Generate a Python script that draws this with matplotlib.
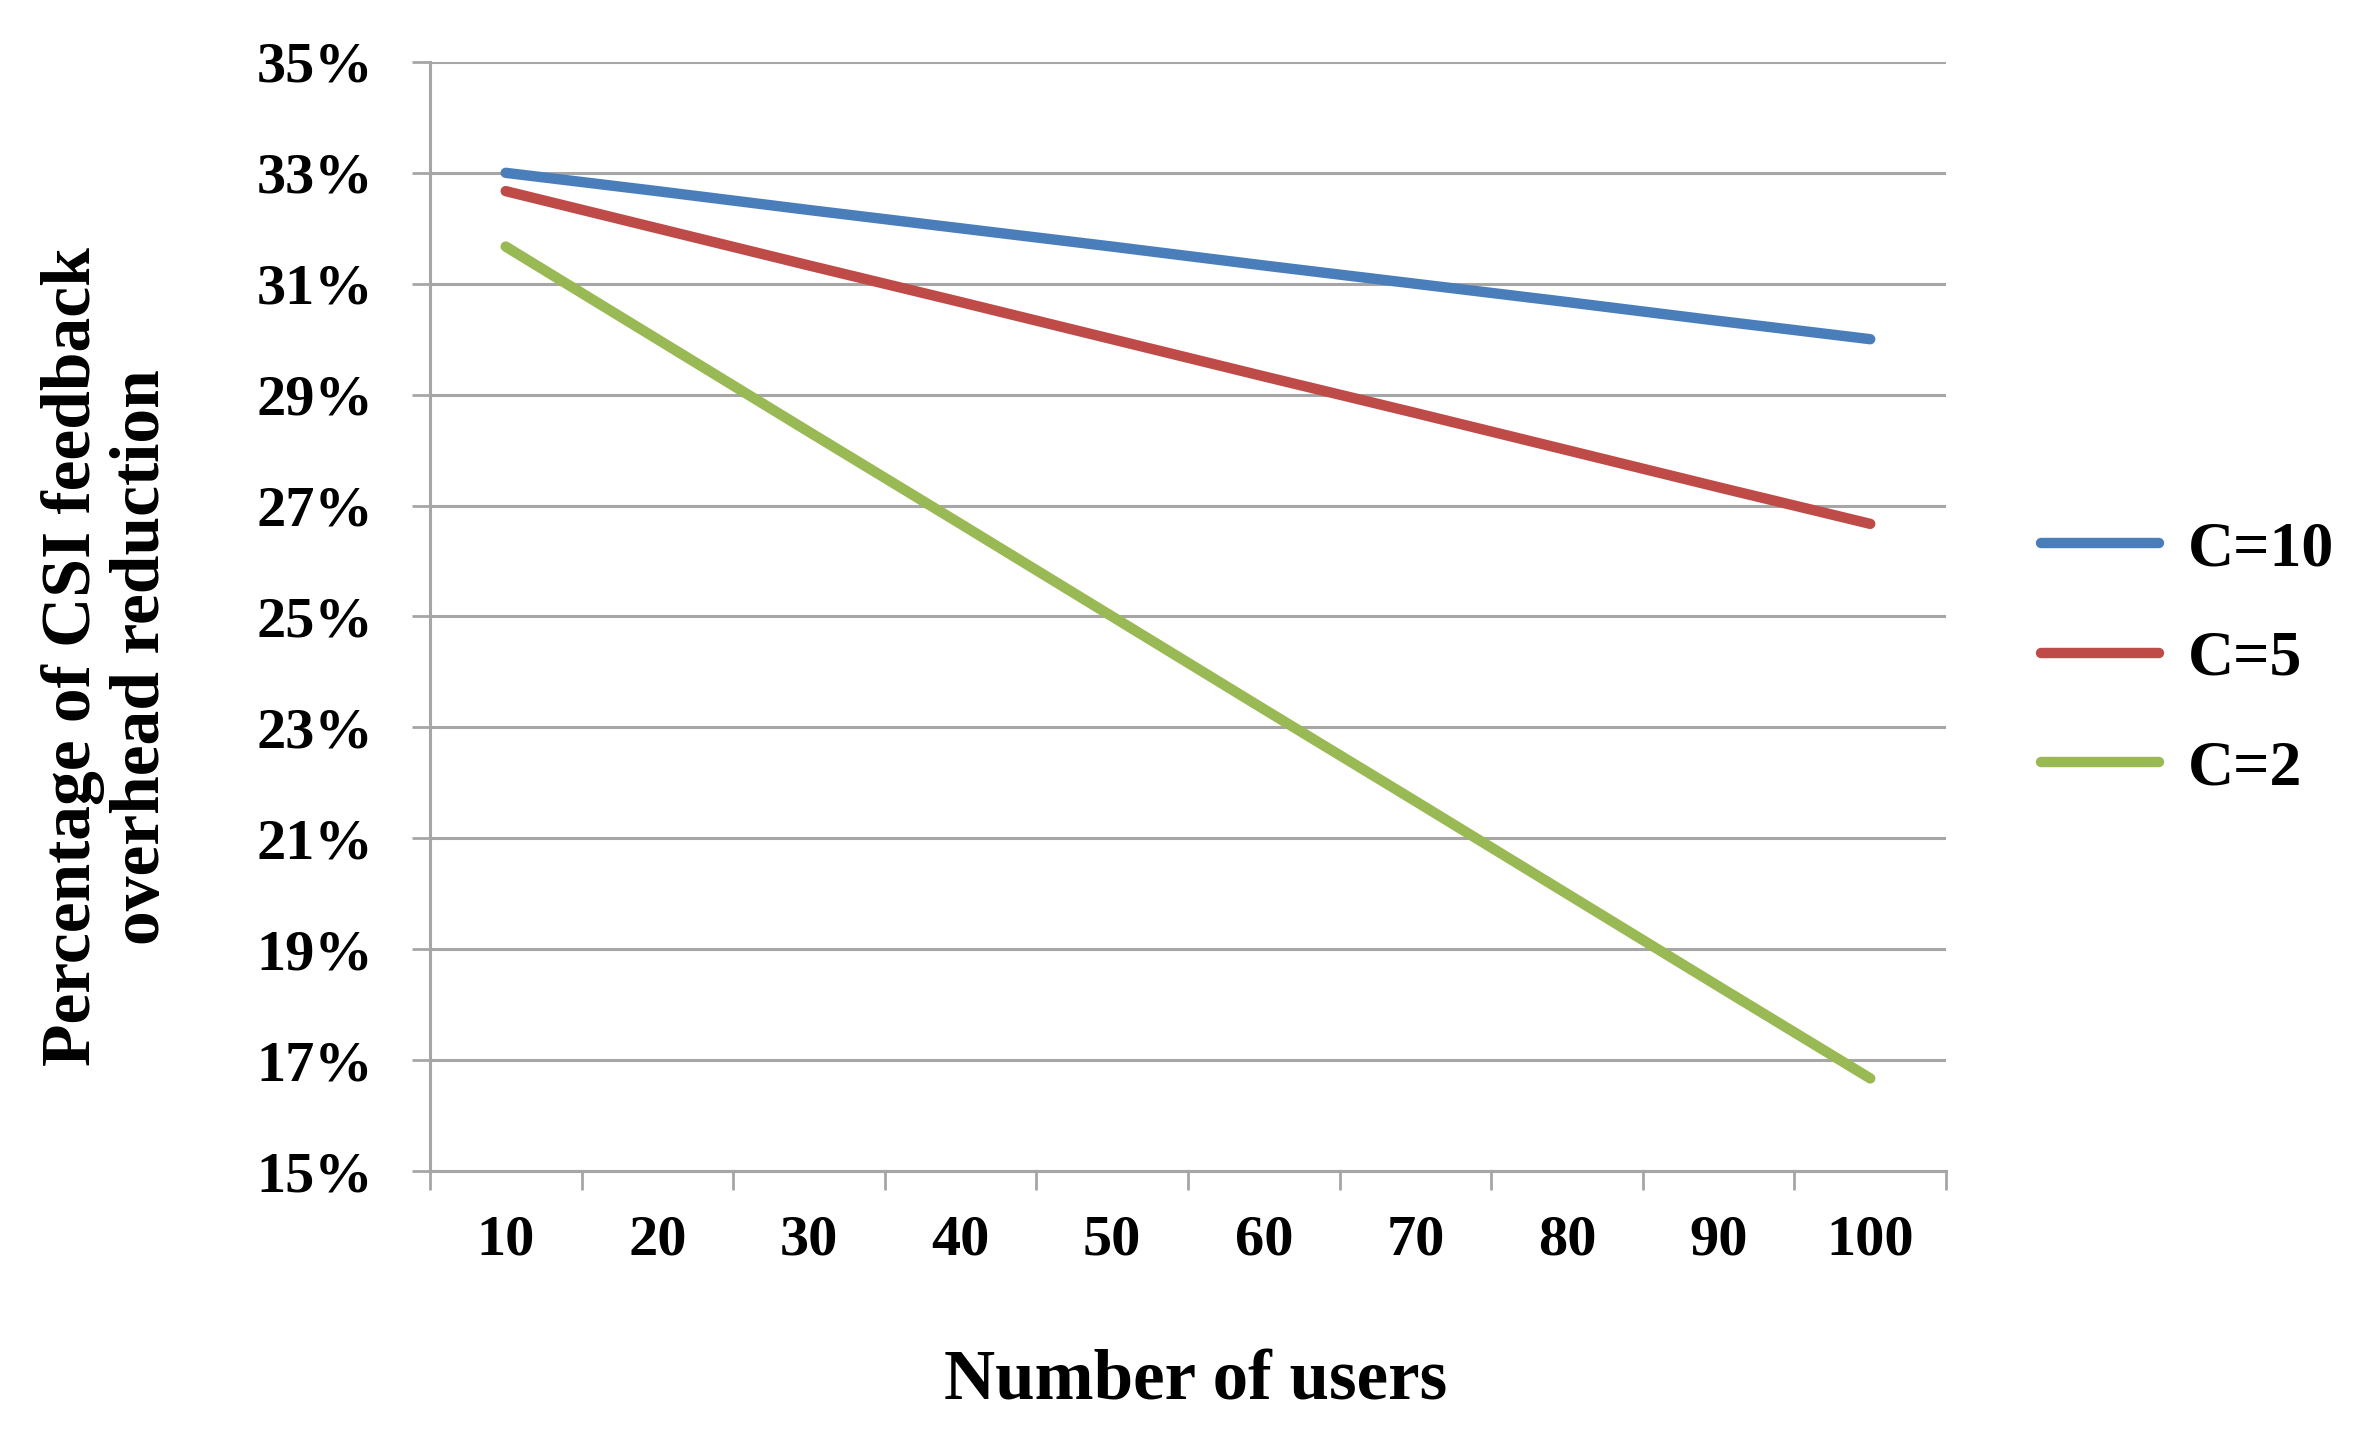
import numpy as np
import matplotlib
matplotlib.use('Agg')
import matplotlib.pyplot as plt
from matplotlib.ticker import FixedLocator, FuncFormatter

users = [10, 20, 30, 40, 50, 60, 70, 80, 90, 100]
c10 = [33.00, 32.67, 32.33, 32.00, 31.67, 31.33, 31.00, 30.67, 30.33, 30.00]
c5 = [32.67, 32.00, 31.33, 30.67, 30.00, 29.33, 28.67, 28.00, 27.33, 26.67]
c2 = [31.67, 30.00, 28.33, 26.67, 25.00, 23.33, 21.67, 20.00, 18.33, 16.67]
labels = ['C=10', 'C=5', 'C=2']
colors = ['#4A7EBB', '#BE4B48', '#98B954']

FN = 'Liberation Serif'
plt.rc('font', family=FN, weight='bold', size=42)

fig = plt.figure(figsize=(23.66, 14.4), dpi=100)
ax = fig.add_axes([0.1817, 0.1868, 0.8225 - 0.1817, 0.957 - 0.1868])

x = np.arange(1, len(users) + 1)
for ys, lab, col in zip([c10, c5, c2], labels, colors):
    ax.plot(x, ys, color=col, lw=7.5, solid_capstyle='round', label=lab)

grid_c = '#A6A6A6'
ax.set_xlim(0.5, len(users) + 0.5)
ax.set_ylim(15, 35)
ax.set_yticks(np.arange(15, 36, 2))
ax.yaxis.set_major_formatter(FuncFormatter(lambda v, p: '%d%%' % v))
ax.yaxis.grid(True, color=grid_c, lw=2.2)
ax.set_axisbelow(True)

# category boundaries get tick marks, labels sit at centres
ax.xaxis.set_major_locator(FixedLocator(np.arange(0.5, len(users) + 1, 1.0)))
ax.xaxis.set_minor_locator(FixedLocator(x))
ax.xaxis.set_major_formatter(FuncFormatter(lambda v, p: ''))
ax.xaxis.set_minor_formatter(FuncFormatter(lambda v, p: str(users[int(round(v)) - 1])))
ax.tick_params(axis='x', which='major', length=14, width=2, color=grid_c)
ax.tick_params(axis='x', which='minor', length=0, pad=31, labelsize=42)
ax.tick_params(axis='y', length=13, width=2, color=grid_c, pad=28, labelsize=42)

for s in ['top', 'right']:
    ax.spines[s].set_visible(False)
for s in ['left', 'bottom']:
    ax.spines[s].set_color(grid_c)
    ax.spines[s].set_linewidth(2.2)

fig.text(0.5055, 0.040, 'Number of users', ha='center', va='center', fontsize=51)
fig.text(0.0455, 0.544, 'Percentage of CSI feedback\noverhead reduction',
         ha='center', va='center', rotation=90, fontsize=50,
         multialignment='center', linespacing=1.1)

fig.legend(loc='center left', bbox_to_anchor=(0.8625, 0.542), frameon=False,
           fontsize=46, handlelength=1.85, handletextpad=0.45,
           labelspacing=0.8, borderpad=0, borderaxespad=0)

plt.savefig('out.png', dpi=100)
plt.close(fig)
